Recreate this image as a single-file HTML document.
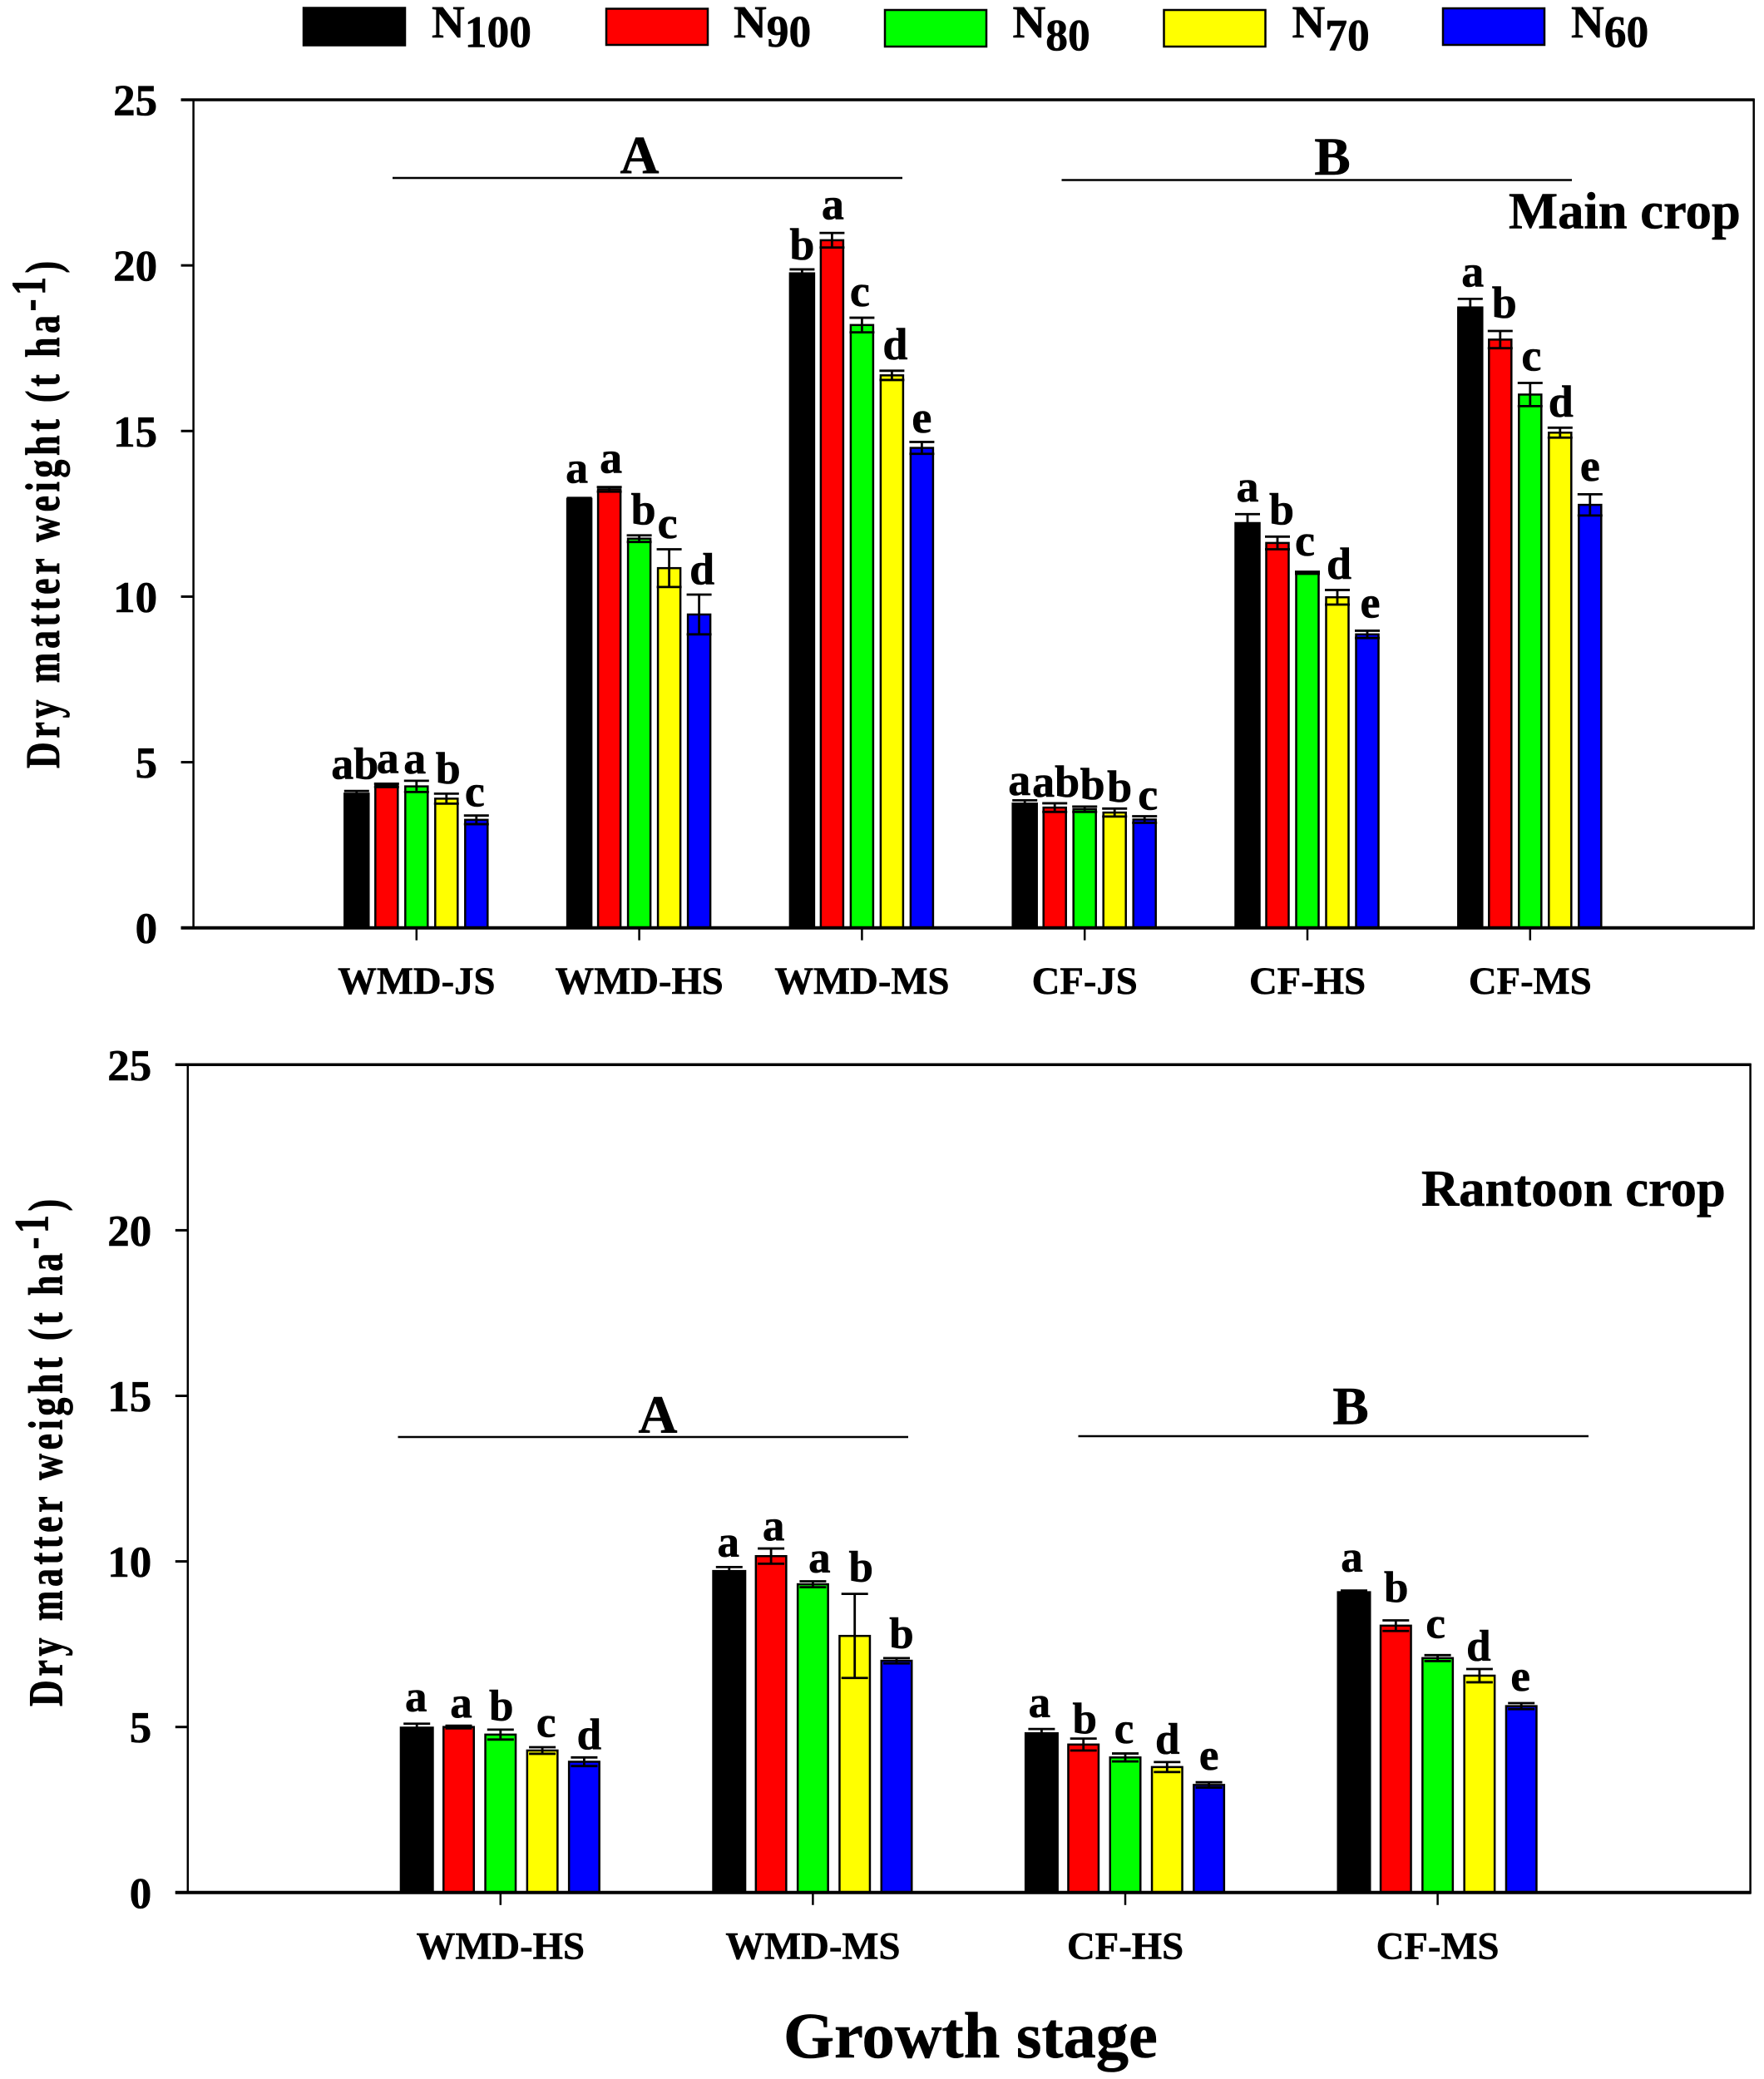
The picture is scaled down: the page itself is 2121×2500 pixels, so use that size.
<!DOCTYPE html>
<html lang="en">
<head>
<meta charset="utf-8">
<title>Dry matter weight by growth stage</title>
<style>
html,body{margin:0;padding:0;background:#fff}
svg{display:block}
text{font-family:"Liberation Serif",serif;font-weight:bold;fill:#000;stroke:#000;stroke-width:.6px}
</style>
</head>
<body>
<svg id="chart" xmlns="http://www.w3.org/2000/svg" width="2121" height="2500" viewBox="0 0 2121 2500">
  <rect x="0" y="0" width="2121" height="2500" fill="#fff"/>

  <g>
    <g>
      <rect x="365" y="9.5" width="122" height="45" fill="#000" stroke="#000" stroke-width="2.5"/>
      <text x="519" y="45" font-size="55">N<tspan dy="11.6" font-size="53.5">100</tspan></text>
    </g>
    <g>
      <rect x="729" y="10.5" width="122" height="43.5" fill="#f00" stroke="#000" stroke-width="2.5"/>
      <text x="882" y="45" font-size="55">N<tspan dy="11" font-size="53.5">90</tspan></text>
    </g>
    <g>
      <rect x="1064" y="12" width="122" height="44" fill="#0f0" stroke="#000" stroke-width="2.5"/>
      <text x="1217.5" y="45" font-size="55">N<tspan dy="15.5" font-size="53.5">80</tspan></text>
    </g>
    <g>
      <rect x="1399.5" y="12" width="122" height="44" fill="#ff0" stroke="#000" stroke-width="2.5"/>
      <text x="1553.5" y="45" font-size="55">N<tspan dy="15.5" font-size="53.5">70</tspan></text>
    </g>
    <g>
      <rect x="1735" y="10" width="122" height="44" fill="#00f" stroke="#000" stroke-width="2.5"/>
      <text x="1889" y="45" font-size="55">N<tspan dy="11.6" font-size="53.5">60</tspan></text>
    </g>
  </g>

  <g>
    <text x="769" y="208" font-size="65" text-anchor="middle">A</text>
    <line x1="472" y1="214" x2="1085" y2="214" stroke="#000" stroke-width="2.5"/>
    <text x="1602" y="210" font-size="65" text-anchor="middle">B</text>
    <line x1="1276.5" y1="216.5" x2="1890" y2="216.5" stroke="#000" stroke-width="2.5"/>
    <text x="1814" y="274.5" font-size="62.6">Main crop</text>
    <text transform="translate(71,924) rotate(-90) scale(1,1.32)" font-size="44" letter-spacing="4.6">Dry matter weight (t ha<tspan dy="-13">-1</tspan><tspan dy="13">)</tspan></text>
  </g>

  <g>
    <text x="791" y="1722.5" font-size="65" text-anchor="middle">A</text>
    <line x1="478.5" y1="1728" x2="1092" y2="1728" stroke="#000" stroke-width="2.5"/>
    <text x="1624" y="1712.5" font-size="65" text-anchor="middle">B</text>
    <line x1="1296.5" y1="1727" x2="1910" y2="1727" stroke="#000" stroke-width="2.5"/>
    <text x="1709" y="1450" font-size="62.6">Rantoon crop</text>
    <text transform="translate(74.5,2052) rotate(-90) scale(1,1.32)" font-size="44" letter-spacing="4.6">Dry matter weight (t ha<tspan dy="-13">-1</tspan><tspan dy="13">)</tspan></text>
  </g>

  <text x="942" y="2474" font-size="78.5">Growth stage</text>
</svg>

<script>
const seriesKeys = ['n100', 'n90', 'n80', 'n70', 'n60'];
const seriesColors = ['#000', '#f00', '#0f0', '#ff0', '#00f'];
const yTickLabels = [0, 5, 10, 15, 20, 25];

const mainCategories = ['WMD-JS', 'WMD-HS', 'WMD-MS', 'CF-JS', 'CF-HS', 'CF-MS'];
const mainN100 = [4.05, 12.95, 19.76, 3.75, 12.22, 18.73];
const mainN90 = [4.30, 13.24, 20.76, 3.63, 11.62, 17.76];
const mainN80 = [4.27, 11.75, 18.20, 3.58, 10.72, 16.10];
const mainN70 = [3.90, 10.86, 16.68, 3.48, 9.98, 14.95];
const mainN60 = [3.26, 9.46, 14.49, 3.27, 8.86, 12.77];
const mainErrN100 = [0.08, 0.03, 0.12, 0.10, 0.27, 0.26];
const mainErrN90 = [0.05, 0.07, 0.22, 0.13, 0.19, 0.26];
const mainErrN80 = [0.17, 0.10, 0.22, 0.08, 0.03, 0.35];
const mainErrN70 = [0.15, 0.57, 0.14, 0.12, 0.22, 0.15];
const mainErrN60 = [0.13, 0.60, 0.18, 0.10, 0.11, 0.32];
const mainSigN100 = ['ab', 'a', 'b', 'a', 'a', 'a'];
const mainSigN90 = ['a', 'a', 'a', 'ab', 'b', 'b'];
const mainSigN80 = ['a', 'b', 'c', 'b', 'c', 'c'];
const mainSigN70 = ['b', 'c', 'd', 'b', 'd', 'd'];
const mainSigN60 = ['c', 'd', 'e', 'c', 'e', 'e'];

const ratoonCategories = ['WMD-HS', 'WMD-MS', 'CF-HS', 'CF-MS'];
const ratoonN100 = [4.98, 9.71, 4.81, 9.07];
const ratoonN90 = [5.00, 10.16, 4.47, 8.06];
const ratoonN80 = [4.77, 9.31, 4.08, 7.08];
const ratoonN70 = [4.29, 7.75, 3.79, 6.55];
const ratoonN60 = [3.95, 7.00, 3.25, 5.63];
const ratoonErrN100 = [0.12, 0.12, 0.13, 0.05];
const ratoonErrN90 = [0.04, 0.23, 0.18, 0.16];
const ratoonErrN80 = [0.15, 0.09, 0.12, 0.09];
const ratoonErrN70 = [0.10, 1.27, 0.15, 0.20];
const ratoonErrN60 = [0.13, 0.08, 0.08, 0.09];
const ratoonSigN100 = ['a', 'a', 'a', 'a'];
const ratoonSigN90 = ['a', 'a', 'b', 'b'];
const ratoonSigN80 = ['b', 'a', 'c', 'c'];
const ratoonSigN70 = ['c', 'b', 'd', 'd'];
const ratoonSigN60 = ['d', 'b', 'e', 'e'];

/* Fine placement of significance letters relative to their error caps (annotation layout, not data). */
const mainLabelLift = [[14.5,13,9,12.5,11],[18,17,13,13.5,12.5],[12,16.5,14,14,11.5],[6.5,8,9,8.5,8],[15,15,19.5,13.5,16],[15,16,15,13.5,16.5]];
const mainLabelNudge = [[-2,1.5,-2,2,-2],[-3,2,5,-2,3.5],[0,1,-2.5,4,0],[-6.5,1.5,9.5,6,4],[0,5,-3,2,3.5],[3,5,1.5,1,0]];
const ratoonLabelLift = [[15,10,11,12.5,10],[13,10,11,14.5,12],[14.5,6,12.5,10,15],[23,22,21,10,15]];
const ratoonLabelNudge = [[-1,3,1,4.5,6],[-1,3,8,7.5,6],[-2.5,1.5,-1.5,.5,0],[-2.5,.5,-2.5,-1,-1]];

const SVG_NS = 'http://www.w3.org/2000/svg';
const svg = document.getElementById('chart');

function drawPanel(p) {
  const yScale = function (v) { return p.bottom - v * (p.bottom - p.top) / 25; };
  const xScale = function (i) { return p.firstTick + i * p.tickStep; };

  const layer = document.createElementNS(SVG_NS, 'g');
  
  
  svg.appendChild(layer);

  const frame = document.createElementNS(SVG_NS, 'rect');
  frame.setAttribute('x', p.left);
  frame.setAttribute('y', p.top);
  frame.setAttribute('width', p.right - p.left);
  frame.setAttribute('height', p.bottom - p.top);
  frame.setAttribute('fill', 'none');
  frame.setAttribute('stroke', '#000');
  frame.setAttribute('stroke-width', '2.5');
  
  
  layer.appendChild(frame);

  yTickLabels.forEach(function (t) {
    const tick = document.createElementNS(SVG_NS, 'line');
    tick.setAttribute('x1', p.left - 15);
    tick.setAttribute('x2', p.left);
    tick.setAttribute('y1', yScale(t));
    tick.setAttribute('y2', yScale(t));
    tick.setAttribute('stroke', '#000');
    tick.setAttribute('stroke-width', '3');
    
    
    layer.appendChild(tick);

    const label = document.createElementNS(SVG_NS, 'text');
    label.setAttribute('x', p.left - 43.5);
    label.setAttribute('y', yScale(t) + 18.5);
    label.setAttribute('font-size', '53');
    label.setAttribute('text-anchor', 'end');
    
    
    label.textContent = t;
    layer.appendChild(label);
  });

  p.categories.forEach(function (cat, i) {
    const cx = xScale(i);

    p.values.forEach(function (series, s) {
      const v = series[i];
      const e = p.errors[s][i];
      const bx = cx + (s - 2) * p.barStep;
      const key = p.name + '-' + cat.toLowerCase() + '-' + seriesKeys[s];

      const bar = document.createElementNS(SVG_NS, 'rect');
      const extra = s === 0 ? 2 : 0;
      bar.setAttribute('x', bx - (p.barWidth + extra) / 2);
      bar.setAttribute('y', yScale(v));
      bar.setAttribute('width', p.barWidth + extra);
      bar.setAttribute('height', Math.max(0, yScale(0) - yScale(v)));
      bar.setAttribute('fill', seriesColors[s]);
      bar.setAttribute('stroke', '#000');
      bar.setAttribute('stroke-width', '2.5');
      
      
      layer.appendChild(bar);

      const path = document.createElementNS(SVG_NS, 'path');
      const half = p.capWidth / 2;
      const hi = yScale(v + e);
      const lo = yScale(v - e);
      path.setAttribute('d', 'M' + (bx - half) + ' ' + hi + 'H' + (bx + half) +
        'M' + bx + ' ' + hi + 'V' + lo +
        'M' + (bx - half) + ' ' + lo + 'H' + (bx + half));
      path.setAttribute('fill', 'none');
      path.setAttribute('stroke', '#000');
      path.setAttribute('stroke-width', '2.8');
      
      
      layer.appendChild(path);

      const sig = document.createElementNS(SVG_NS, 'text');
      sig.setAttribute('x', bx + p.nudge[i][s]);
      sig.setAttribute('y', hi - p.lift[i][s]);
      sig.setAttribute('font-size', p.sigSize);
      sig.setAttribute('text-anchor', 'middle');
      
      
      sig.textContent = p.sig[s][i];
      layer.appendChild(sig);
    });

    const xTick = document.createElementNS(SVG_NS, 'line');
    xTick.setAttribute('x1', cx);
    xTick.setAttribute('x2', cx);
    xTick.setAttribute('y1', p.bottom);
    xTick.setAttribute('y2', p.bottom + 15);
    xTick.setAttribute('stroke', '#000');
    xTick.setAttribute('stroke-width', '2.5');
    
    
    layer.appendChild(xTick);

    const xLabel = document.createElementNS(SVG_NS, 'text');
    xLabel.setAttribute('x', cx);
    xLabel.setAttribute('y', p.bottom + 79.5);
    xLabel.setAttribute('font-size', '46.7');
    xLabel.setAttribute('text-anchor', 'middle');
    
    
    xLabel.textContent = cat;
    layer.appendChild(xLabel);
  });

  const baseline = document.createElementNS(SVG_NS, 'line');
  baseline.setAttribute('x1', p.left - 15);
  baseline.setAttribute('x2', p.right + 1);
  baseline.setAttribute('y1', p.bottom);
  baseline.setAttribute('y2', p.bottom);
  baseline.setAttribute('stroke', '#000');
  baseline.setAttribute('stroke-width', '4');
  
  
  layer.appendChild(baseline);

  const topLine = document.createElementNS(SVG_NS, 'line');
  topLine.setAttribute('x1', p.left - 15);
  topLine.setAttribute('x2', p.right + 1);
  topLine.setAttribute('y1', p.top);
  topLine.setAttribute('y2', p.top);
  topLine.setAttribute('stroke', '#000');
  topLine.setAttribute('stroke-width', '3.5');
  
  
  layer.appendChild(topLine);
}

drawPanel({
  name: 'main',
  left: 232.6, right: 2108.7, top: 120, bottom: 1115.7,
  firstTick: 500.8, tickStep: 267.8, barStep: 36, barWidth: 27, capWidth: 30, sigSize: 54,
  categories: mainCategories,
  values: [mainN100, mainN90, mainN80, mainN70, mainN60],
  errors: [mainErrN100, mainErrN90, mainErrN80, mainErrN70, mainErrN60],
  sig: [mainSigN100, mainSigN90, mainSigN80, mainSigN70, mainSigN60],
  lift: mainLabelLift, nudge: mainLabelNudge
});

drawPanel({
  name: 'ratoon',
  left: 225.8, right: 2104.6, top: 1280.3, bottom: 2275.8,
  firstTick: 601.8, tickStep: 375.6, barStep: 50.3, barWidth: 36.5, capWidth: 32, sigSize: 53,
  categories: ratoonCategories,
  values: [ratoonN100, ratoonN90, ratoonN80, ratoonN70, ratoonN60],
  errors: [ratoonErrN100, ratoonErrN90, ratoonErrN80, ratoonErrN70, ratoonErrN60],
  sig: [ratoonSigN100, ratoonSigN90, ratoonSigN80, ratoonSigN70, ratoonSigN60],
  lift: ratoonLabelLift, nudge: ratoonLabelNudge
});
</script>
</body>
</html>
